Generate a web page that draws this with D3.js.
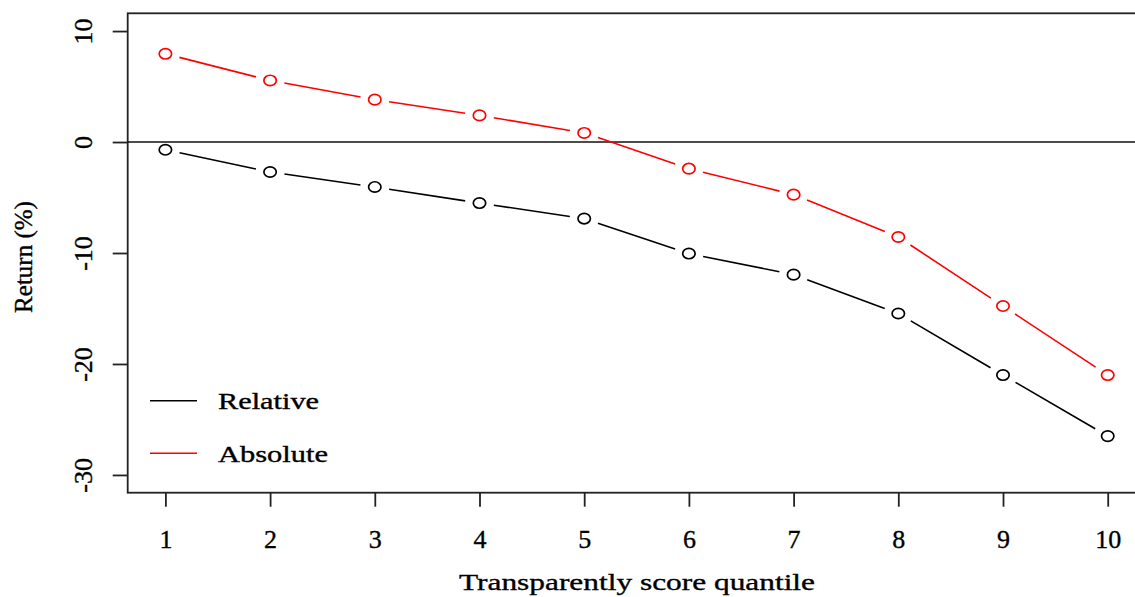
<!DOCTYPE html>
<html>
<head>
<meta charset="utf-8">
<script src="https://cdn.jsdelivr.net/npm/d3@7"></script>
<style>
  html, body { margin: 0; padding: 0; background: #fff; }
  svg text { font-family: "Liberation Serif", "Times New Roman", serif; fill: #000; stroke: #000; stroke-width: 0.35px; }
</style>
</head>
<body>
<svg width="1135" height="597"></svg>
<script>
// Quantiles on the x axis
const quantiles = [1, 2, 3, 4, 5, 6, 7, 8, 9, 10];

// Returns (%)
const relative = [-0.7, -2.7, -4.05, -5.5, -6.9, -10.05, -11.95, -15.45, -21.0, -26.5];
const absolute = [7.95, 5.55, 3.82, 2.4, 0.82, -2.4, -4.74, -8.56, -14.78, -21.0];

// Axis ticks
const yTicks = [10, 0, -10, -20, -30];

const seriesNames = ["Relative", "Absolute"];
const seriesColors = ["#000000", "#ff0000"];

const svg = d3.select("svg");

// R-style plot region: limits extended by 4%
const x = d3.scaleLinear()
    .domain([0.64, 10.36])
    .range([127.7, 1145.4]);

const y = d3.scaleLinear()
    .domain([-31.6, 11.6])
    .range([492.7, 13.3]);

// Box around the plot
svg.append("rect")
    .attr("x", x.range()[0])
    .attr("y", y.range()[1])
    .attr("width", x.range()[1] - x.range()[0])
    .attr("height", y.range()[0] - y.range()[1])
    .attr("fill", "none")
    .attr("stroke", "#222")
    .attr("stroke-width", 1.8);

// Zero reference line
svg.append("line")
    .attr("x1", x.range()[0])
    .attr("x2", x.range()[1])
    .attr("y1", y(0))
    .attr("y2", y(0))
    .attr("stroke", "#111")
    .attr("stroke-width", 1.5);

// X axis
const xAxis = svg.append("g")
    .attr("transform", `translate(0,${y.range()[0]})`)
    .call(d3.axisBottom(x).tickValues(quantiles).tickSize(14).tickFormat(d => String(d)));
xAxis.select(".domain").remove();
xAxis.selectAll(".tick line").attr("stroke", "#222").attr("stroke-width", 1.8);
xAxis.selectAll(".tick text")
    .attr("y", 55.5)
    .attr("dy", 0)
    .attr("font-size", 26)
    .attr("font-family", null);

// Y axis
const yAxis = svg.append("g")
    .attr("transform", `translate(${x.range()[0]},0)`)
    .call(d3.axisLeft(y).tickValues(yTicks).tickSize(15).tickFormat(d => String(d)));
yAxis.select(".domain").remove();
yAxis.selectAll(".tick line").attr("stroke", "#222").attr("stroke-width", 1.8);
yAxis.selectAll(".tick text")
    .attr("x", null)
    .attr("dy", 0)
    .attr("text-anchor", "middle")
    .attr("transform", "translate(-36,0) rotate(-90)")
    .attr("font-size", 26)
    .attr("font-family", null);

// Axis titles
svg.append("text")
    .attr("x", 637)
    .attr("y", 590)
    .attr("text-anchor", "middle")
    .attr("font-size", 24)
    .attr("textLength", 356)
    .attr("lengthAdjust", "spacingAndGlyphs")
    .text("Transparently score quantile");

svg.append("text")
    .attr("transform", `translate(31.5,${(y.range()[0] + y.range()[1]) / 2 + 4}) rotate(-90)`)
    .attr("text-anchor", "middle")
    .attr("font-size", 25)
    .text("Return (%)");

// Lines with gaps around the points (R type = "b")
const gap = 14.5;
function drawSeries(values, color) {
  const pts = values.map((v, i) => [x(quantiles[i]), y(v)]);
  const segs = d3.pairs(pts).map(([a, b]) => {
    const dx = b[0] - a[0], dy = b[1] - a[1];
    const len = Math.hypot(dx, dy);
    const ux = dx / len, uy = dy / len;
    return [a[0] + ux * gap, a[1] + uy * gap, b[0] - ux * gap, b[1] - uy * gap];
  });
  const g = svg.append("g");
  g.selectAll("line")
    .data(segs)
    .enter()
    .append("line")
    .attr("x1", d => d[0]).attr("y1", d => d[1])
    .attr("x2", d => d[2]).attr("y2", d => d[3])
    .attr("stroke", color)
    .attr("stroke-width", 1.6);
  g.selectAll("ellipse")
    .data(pts)
    .enter()
    .append("ellipse")
    .attr("cx", d => d[0])
    .attr("cy", d => d[1])
    .attr("rx", 6.2)
    .attr("ry", 5.2)
    .attr("fill", "none")
    .attr("stroke", color)
    .attr("stroke-width", 1.7);
}
drawSeries(relative, seriesColors[0]);
drawSeries(absolute, seriesColors[1]);

// Legend
const legend = svg.append("g");
const legendRows = legend.selectAll("g")
    .data(seriesNames)
    .enter()
    .append("g")
    .attr("transform", (d, i) => `translate(150,${400.7 + i * 52.6})`);
legendRows.append("line")
    .attr("x1", 0).attr("x2", 47)
    .attr("stroke", (d, i) => seriesColors[i])
    .attr("stroke-width", 1.6);
legendRows.append("text")
    .attr("x", 68)
    .attr("y", 8.5)
    .attr("font-size", 23)
    .attr("textLength", (d, i) => [101, 110][i])
    .attr("lengthAdjust", "spacingAndGlyphs")
    .text(d => d);
</script>
</body>
</html>
